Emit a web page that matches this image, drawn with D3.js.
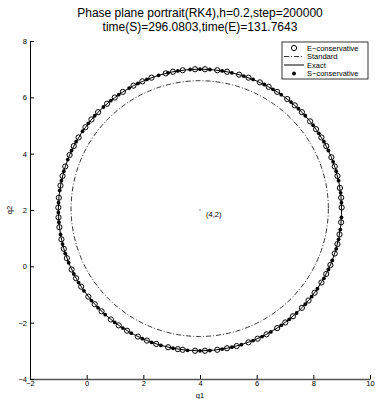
<!DOCTYPE html>
<html>
<head>
<meta charset="utf-8">
<script src="https://cdn.jsdelivr.net/npm/d3@7"></script>
<style>
  body { margin: 0; background: #fff; }
  svg { display: block; font-family: "Liberation Sans", Arial, sans-serif; }
</style>
</head>
<body>
<div id="container"></div>
<script>
// axis ticks
const xTicks = [-2, 0, 2, 4, 6, 8, 10];
const yTicks = [-4, -2, 0, 2, 4, 6, 8];

// exact orbit: centre and radius
const exactCenter = [4, 2];
const exactRadius = 5;

// standard RK4 orbit (shrunk)
const standardCenter = [3.99, 2.05];
const standardRadius = 4.54;

// E-conservative marker angles (degrees, ccw from +q1)
const eAngles = [1, 5, 9, 14, 18, 22, 27, 31, 35, 39, 44, 48, 52, 57, 61, 65, 70, 74,
  79, 83, 88, 92, 97, 101, 104, 110, 114, 118, 123, 127, 131, 136, 140, 144, 149,
  153, 157, 162, 166, 170, 175, 179, 183, 187, 192, 196, 200, 205, 209, 213, 218,
  222, 226, 231, 235, 239, 244, 248, 252, 257, 261, 263, 268, 272, 277, 281, 285,
  290, 294, 298, 303, 307, 311, 316, 320, 324, 329, 333, 337, 342, 346, 350, 355];

// S-conservative marker angles
const sAngles = [3, 7, 12, 16, 20, 25, 29, 33, 37, 42, 46, 50, 55, 59, 63, 68, 72, 77,
  81, 86, 90, 94, 99, 103, 107, 112, 116, 120, 125, 129, 133, 138, 142, 146, 151,
  155, 159, 164, 168, 172, 177, 181, 185, 190, 194, 198, 202, 207, 211, 215, 220,
  224, 228, 233, 237, 241, 246, 250, 254, 259, 265, 270, 274, 279, 283, 287, 292,
  296, 300, 305, 309, 313, 318, 322, 326, 331, 335, 339, 344, 348, 352, 357];

const legendItems = ['E\u2212conservative', 'Standard', 'Exact', 'S\u2212conservative'];
const titleLines = ['Phase plane portrait(RK4),h=0.2,step=200000',
                    'time(S)=296.0803,time(E)=131.7643'];

const width = 375, height = 399;
const margin = { top: 41, right: 5, bottom: 20, left: 30 };

const svg = d3.select('#container').append('svg')
  .attr('width', width)
  .attr('height', height);

const x = d3.scaleLinear().domain([-2, 10]).range([margin.left, width - margin.right]);
const y = d3.scaleLinear().domain([-4, 8]).range([height - margin.bottom, margin.top]);

// title
svg.selectAll('text.title')
  .data(titleLines)
  .enter().append('text')
  .attr('class', 'title')
  .attr('x', (x(-2) + x(10)) / 2)
  .attr('y', (d, i) => 17 + i * 14)
  .attr('text-anchor', 'middle')
  .style('font-size', '12px')
  .text(d => d);

// axes
const xAxis = d3.axisBottom(x).tickValues(xTicks).tickSizeInner(-4).tickSizeOuter(0).tickPadding(2);
const yAxis = d3.axisLeft(y).tickValues(yTicks).tickSizeInner(-4).tickSizeOuter(0).tickPadding(3);

const gx = svg.append('g')
  .attr('transform', `translate(0,${y(-4)})`)
  .call(xAxis);
const gy = svg.append('g')
  .attr('transform', `translate(${x(-2)},0)`)
  .call(yAxis);

[gx, gy].forEach(g => {
  g.selectAll('text').style('font-size', '7.5px').attr('fill', '#000');
  g.selectAll('line').attr('stroke', '#000');
  g.select('.domain').attr('stroke', '#000');
});
gx.select('.domain').attr('stroke', '#555').attr('stroke-width', 1.6);

svg.append('text')
  .attr('x', x(4))
  .attr('y', 398)
  .attr('text-anchor', 'middle')
  .style('font-size', '7.5px')
  .text('q1');

svg.append('text')
  .attr('transform', `translate(12,${y(2)}) rotate(-90)`)
  .attr('text-anchor', 'middle')
  .style('font-size', '7.5px')
  .text('q2');

// orbits
function orbit(c, r) {
  return svg.append('ellipse')
    .attr('cx', x(c[0]))
    .attr('cy', y(c[1]))
    .attr('rx', x(c[0] + r) - x(c[0]))
    .attr('ry', y(c[1]) - y(c[1] + r))
    .attr('fill', 'none')
    .attr('stroke', '#000');
}

orbit(standardCenter, standardRadius)
  .attr('stroke-width', 0.8)
  .attr('stroke-dasharray', '5,2,1,2');

orbit(exactCenter, exactRadius).attr('stroke-width', 1);

const rad = a => a * Math.PI / 180;

svg.append('g').selectAll('circle')
  .data(eAngles)
  .enter().append('circle')
  .attr('cx', a => x(exactCenter[0] + exactRadius * Math.cos(rad(a))))
  .attr('cy', a => y(exactCenter[1] + exactRadius * Math.sin(rad(a))))
  .attr('r', 2.6)
  .attr('fill', 'none')
  .attr('stroke', '#000')
  .attr('stroke-width', 1);

svg.append('g').selectAll('circle')
  .data(sAngles)
  .enter().append('circle')
  .attr('cx', a => x(exactCenter[0] + exactRadius * Math.cos(rad(a))))
  .attr('cy', a => y(exactCenter[1] + exactRadius * Math.sin(rad(a))))
  .attr('r', 1.9)
  .attr('fill', '#000');

// centre point and label
svg.append('circle')
  .attr('cx', x(exactCenter[0]))
  .attr('cy', y(exactCenter[1]))
  .attr('r', 0.6)
  .attr('fill', '#000');

svg.append('text')
  .attr('x', x(exactCenter[0]) + 6)
  .attr('y', y(exactCenter[1]) + 7)
  .style('font-size', '7.5px')
  .text('(4,2)');

// legend
const lg = svg.append('g').attr('transform', 'translate(282,42)');
lg.append('rect')
  .attr('width', 86).attr('height', 37)
  .attr('fill', '#fff').attr('stroke', '#000').attr('stroke-width', 0.8);

const row = i => 6 + i * 8.5;

lg.selectAll('text')
  .data(legendItems)
  .enter().append('text')
  .attr('x', 25)
  .attr('y', (d, i) => row(i) + 2.7)
  .style('font-size', '7.5px')
  .text(d => d);

lg.append('circle').attr('cx', 12).attr('cy', row(0)).attr('r', 2.6)
  .attr('fill', 'none').attr('stroke', '#000').attr('stroke-width', 1);
lg.append('line').attr('x1', 2).attr('x2', 22).attr('y1', row(1)).attr('y2', row(1))
  .attr('stroke', '#000').attr('stroke-width', 0.8).attr('stroke-dasharray', '5,2,1,2');
lg.append('line').attr('x1', 2).attr('x2', 22).attr('y1', row(2)).attr('y2', row(2))
  .attr('stroke', '#000').attr('stroke-width', 1);
lg.append('circle').attr('cx', 12).attr('cy', row(3)).attr('r', 1.9).attr('fill', '#000');
</script>
</body>
</html>
